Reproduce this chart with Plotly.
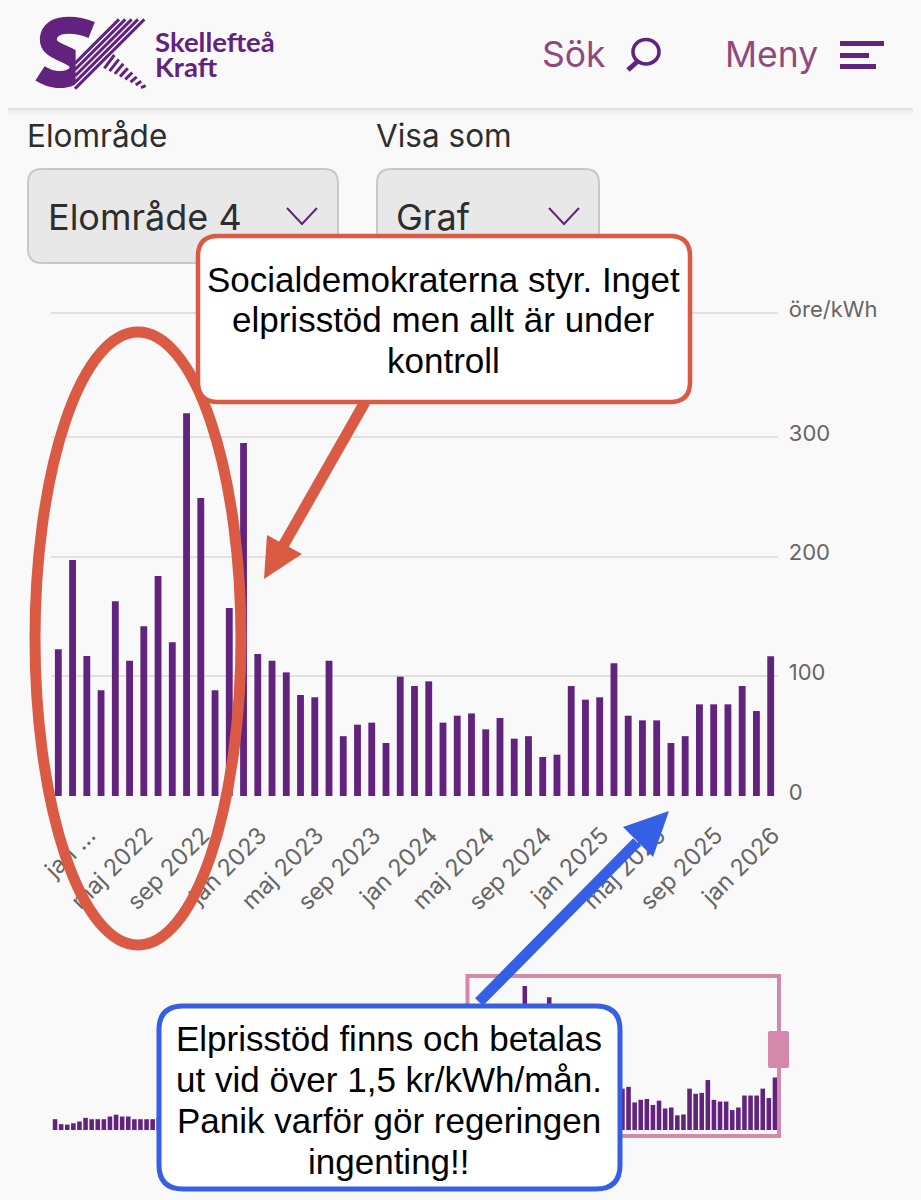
import plotly.graph_objects as go
import pandas as pd

W, H = 921, 1200

# ---- data (öre/kWh per month) ----
price_main = [122.6, 197.2, 117, 88.3, 162.7, 113, 141.8, 183.8, 128.4, 319.8, 249, 88.3, 157,
              295, 118.7, 113, 103.3, 84.4, 82.5, 113, 50, 59.6, 61.3, 44.3, 99.7, 91.9, 95.8,
              61.3, 67.1, 69, 55.7, 65.2, 47.9, 50, 32.6, 34.5, 91.9, 80.5, 82.5, 111, 67.1,
              63.2, 63.2, 44.3, 50, 76.6, 76.6, 76.6, 91.9, 71, 116.7]
# earlier history, only shown in the overview strip; the part behind the blue box is estimated
price_history = [24, 13, 12, 15, 19, 27, 24, 24, 24, 30, 34, 30, 30, 24, 24, 24, 24,
                 28, 32, 38, 42, 45, 48, 52, 55, 50, 46, 44, 40, 48, 55, 60, 52, 46, 42,
                 38, 34, 30, 28, 26, 22, 18, 16, 18, 20, 26, 30, 32, 28, 34, 45, 52, 60,
                 58, 50, 42, 38, 36, 44, 52, 58, 70, 85, 90, 95, 78, 82, 88]
month_labels = [d.strftime("%Y-%m") + " " for d in pd.date_range("2016-03-01", "2026-01-01", freq="MS")]
main_months = month_labels[-len(price_main):]
tick_months = main_months[2::4]
tick_labels = ["jan ...", "maj 2022", "sep 2022", "jan 2023", "maj 2023", "sep 2023", "jan 2024",
               "maj 2024", "sep 2024", "jan 2025", "maj 2025", "sep 2025", "jan 2026"]
y_ticks = [0, 100, 200, 300, 403.3]
y_tick_labels = ["0", "100", "200", "300", "öre/kWh"]

# ---- style ----
BG = "#FAF9FA"
PURPLE = "#62237E"
MAUVE = "#8E4A7C"
RED = "#DB5A44"
BLUE = "#3560E6"
PINK = "#D488AB"
GRID = "#E3DFDF"
TICK = "#666666"
DARK = "#2E2E2E"
FONT = "Inter"
LOGOFONT = "Lato"
BOXFONT = "Liberation Sans"

def px(x): return x / W
def py(y): return 1 - y / H
def P(x, y): return f"{px(x):.5f},{py(y):.5f}"
def path(pts, close=False):
    return "M" + " L".join(P(*p) for p in pts) + (" Z" if close else "")
def rrect(x0, y0, x1, y1, r):
    return (f"M{P(x0+r,y0)} L{P(x1-r,y0)} Q{P(x1,y0)} {P(x1,y0+r)} L{P(x1,y1-r)} Q{P(x1,y1)} {P(x1-r,y1)} "
            f"L{P(x0+r,y1)} Q{P(x0,y1)} {P(x0,y1-r)} L{P(x0,y0+r)} Q{P(x0,y0)} {P(x0+r,y0)} Z")

shapes, annos = [], []
def sh_path(d, fill=None, color=None, width=0):
    s = dict(type="path", path=d, xref="paper", yref="paper", layer="above",
             line=dict(color=color or "rgba(0,0,0,0)", width=width))
    if fill: s["fillcolor"] = fill
    shapes.append(s)
def rect(x0, y0, x1, y1, fill):
    shapes.append(dict(type="rect", xref="paper", yref="paper", layer="above", x0=px(x0), x1=px(x1),
                       y0=py(y0), y1=py(y1), fillcolor=fill, line=dict(width=0)))
def text(x, y, s, size, color, font=FONT, anchor="left"):
    annos.append(dict(text=s, x=px(x), y=py(y), xref="paper", yref="paper", xanchor=anchor, yanchor="middle",
                      showarrow=False, font=dict(size=size, color=color, family=font), borderpad=0))

# header shadow
for i, a in enumerate([0.10, 0.08, 0.06, 0.045, 0.03, 0.02, 0.012, 0.006]):
    rect(8, 108 + i, 913, 109 + i, f"rgba(0,0,0,{a})")

# logo
def Z(x, y): return (25 + x / 3, 10 + y / 3)
sh_path("M" + P(*Z(200, 60)) + " C" + P(*Z(150, 40)) + " " + P(*Z(75, 35)) + " " + P(*Z(70, 85))
        + " C" + P(*Z(68, 125)) + " " + P(*Z(120, 125)) + " " + P(*Z(150, 150))
        + " C" + P(*Z(185, 190)) + " " + P(*Z(115, 235)) + " " + P(*Z(45, 190)),
        color=PURPLE, width=17)
rect(*Z(152, 105), *Z(190, 240), BG)
for k in range(5):
    t = (282 + 19 * k, 28)
    dl = 132 + 19 * k
    sh_path(path([Z(*t), Z(t[0] - dl, t[1] + dl)]), color=PURPLE, width=3)
for k in range(8):
    u = k / 7
    a = (268 + u * 94, 135 + u * 92)
    b = (238 + u * 110, 175 + u * 58)
    sh_path(path([Z(*a), Z(*b)]), color=PURPLE, width=3)
text(154, 41, "<b>Skellefteå</b>", 27.5, PURPLE, LOGOFONT)
text(154, 67, "<b>Kraft</b>", 27.5, PURPLE, LOGOFONT)

# header right
text(541, 55, "Sök", 35.5, MAUVE)
text(724, 55, "Meny", 35.5, MAUVE)
shapes.append(dict(type="circle", xref="paper", yref="paper", layer="above", x0=px(633), x1=px(659),
                   y0=py(39.5), y1=py(64), line=dict(color=PURPLE, width=3.6)))
sh_path(path([(628, 70), (638, 61)]), color=PURPLE, width=5)
rect(840, 41, 884, 46, PURPLE)
rect(840, 53, 869, 58, PURPLE)
rect(840, 64, 876, 69, PURPLE)

# form controls
text(26, 136, "Elområde", 31.5, DARK)
text(375, 136, "Visa som", 31.5, DARK)
sh_path(rrect(28, 169, 338, 263, 14), fill="#E8E8E8", color="#C9C8C4", width=2)
sh_path(rrect(377, 169, 599, 263, 14), fill="#E8E8E8", color="#C9C8C4", width=2)
text(47, 217, "Elområde 4", 36, DARK)
text(395, 217, "Graf", 36, DARK)
sh_path(path([(287, 208), (302, 224), (317, 208)]), color=PURPLE, width=2)
sh_path(path([(549, 208), (564, 224), (579, 208)]), color=PURPLE, width=2)

# overview selection frame
shapes.append(dict(type="rect", xref="paper", yref="paper", layer="above", x0=px(467.5), x1=px(779),
                   y0=py(976), y1=py(1136), line=dict(color=PINK, width=4)))
sh_path(rrect(768, 1031, 789, 1068, 2), fill=PINK)

# red call-out
shapes.append(dict(type="circle", xref="paper", yref="paper", layer="above", x0=px(35), x1=px(241),
                   y0=py(332), y1=py(945), line=dict(color=RED, width=11)))
sh_path(path([(365, 402), (283, 546)]), color=RED, width=11)
sh_path(path([(267, 535), (302, 554), (264, 579)], True), fill=RED)
sh_path(rrect(198, 236, 690, 402, 20), fill="white", color=RED, width=4.5)
for y, s in [(279, "Socialdemokraterna styr. Inget"), (319, "elprisstöd men allt är under"), (360, "kontroll")]:
    text(443, y, s, 35, "black", BOXFONT, "center")

# blue call-out
sh_path(path([(479, 1002), (637, 842)]), color=BLUE, width=11)
sh_path(path([(669, 811), (623, 827), (653, 857)], True), fill=BLUE)
sh_path(rrect(159, 1006, 620, 1189, 24), fill="white", color=BLUE, width=5)
for y, s in [(1038, "Elprisstöd finns och betalas"), (1079, "ut vid över 1,5 kr/kWh/mån."),
             (1120, "Panik varför gör regeringen"), (1161, "ingenting!!")]:
    text(389, y, s, 35, "black", BOXFONT, "center")

fig = go.Figure()
fig.add_bar(x=main_months, y=price_main, width=0.48, marker=dict(color=PURPLE, line=dict(width=0)),
            xaxis="x", yaxis="y", hoverinfo="skip", showlegend=False)
fig.add_bar(x=month_labels, y=price_history + price_main, width=0.75, marker=dict(color=PURPLE, line=dict(width=0)),
            xaxis="x2", yaxis="y2", hoverinfo="skip", showlegend=False)

fig.update_layout(
    width=W, height=H, autosize=False, margin=dict(l=0, r=0, t=0, b=0),
    paper_bgcolor=BG, plot_bgcolor=BG, font=dict(family=FONT, color=TICK),
    shapes=shapes, annotations=annos, hovermode=False,
    xaxis=dict(type="category", domain=[px(51.2), px(777.8)], anchor="y", categoryorder="array",
               categoryarray=main_months, range=[-0.5, 50.5], tickmode="array", tickvals=tick_months,
               ticktext=tick_labels, tickangle=-45, ticks="", showgrid=False, zeroline=False,
               showline=False, tickfont=dict(size=23.5, color=TICK), ticklabelstandoff=20, ticklabelshift=2,
               automargin=False),
    yaxis=dict(domain=[py(796), py(293.4)], anchor="x", side="right", range=[0, 420], tickmode="array",
               tickvals=y_ticks, ticktext=y_tick_labels, ticks="", showgrid=True, gridcolor=GRID, gridwidth=2,
               zeroline=False, showline=False, tickfont=dict(size=22, color=TICK), ticklabelstandoff=10,
               ticklabelshift=-4, automargin=False),
    xaxis2=dict(type="category", domain=[px(52), px(778)], anchor="y2", categoryorder="array",
                categoryarray=month_labels, range=[-0.5, 118.5], visible=False),
    yaxis2=dict(domain=[py(1130), py(981.5)], anchor="x2", range=[0, 330], visible=False),
)

fig.write_html("out.html", config=dict(displayModeBar=False),
               post_script="document.body.style.margin='0';document.body.style.overflow='hidden';")
